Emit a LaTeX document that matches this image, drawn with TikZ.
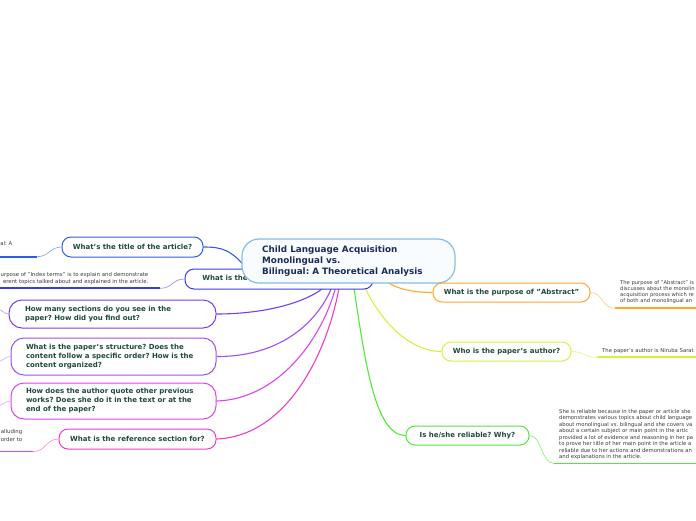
\documentclass[tikz,border=0pt]{standalone}
\usepackage{fontspec}
\setmainfont{DejaVu Sans}
\usetikzlibrary{calc}
\pgfdeclarelayer{bg}
\pgfsetlayers{bg,main}
\definecolor{nodetxt}{HTML}{1E4A3C}
\definecolor{centtxt}{HTML}{1C2B5A}
\definecolor{leaftxt}{HTML}{3A3A3A}
\definecolor{centbd}{HTML}{86BDE6}
\definecolor{centfill}{HTML}{F8FCFF}
\definecolor{cTitle}{HTML}{2F5BE8}
\definecolor{cIndex}{HTML}{3B3BE6}
\definecolor{cMany}{HTML}{7A3CF0}
\definecolor{cStruct}{HTML}{A050F0}
\definecolor{cQuote}{HTML}{D946EF}
\definecolor{cRef}{HTML}{F03CC8}
\definecolor{cAbs}{HTML}{FFA726}
\definecolor{cAuth}{HTML}{D4F23A}
\definecolor{cRel}{HTML}{55E63A}
\frenchspacing
\begin{document}
\begin{tikzpicture}[x=1pt,y=-1pt,
  mnode/.style={draw, line width=1pt, rounded corners=9pt, fill=white,
    font=\bfseries\fontsize{7}{9}\selectfont, text=nodetxt, inner sep=0pt, align=center},
  mlong/.style={mnode, rounded corners=13pt, align=left},
  leaf/.style={font=\fontsize{5.3}{6.5}\selectfont, text=leaftxt, inner sep=0pt},
  link/.style={line width=1.1pt},
  twig/.style={line width=0.6pt},
  uline/.style={line width=1.8pt}]
\useasboundingbox (0,0) rectangle (696,520);
\clip (0,0) rectangle (696,520);

% ---------- nodes ----------
\node[mnode, draw=cIndex, minimum width=188pt, minimum height=20pt] (index) at (279,279)
  {What is the purpose of "Index terms"?};
\node[draw=centbd, line width=1.2pt, fill=centfill, rounded corners=17pt,
  minimum width=213pt, minimum height=44pt, inner sep=0pt] (c) at (348.5,261) {};
\node[anchor=west, align=left, inner sep=0pt, text=centtxt,
  font=\bfseries\fontsize{8.8}{11}\selectfont] (ctext) at (262,261.5)
  {Child Language Acquisition\\Monolingual vs.\\Bilingual: A Theoretical Analysis};

\node[mnode, draw=cTitle, minimum width=141pt, minimum height=20pt] (title) at (132.5,247)
  {What's the title of the article?};
\node[mlong, draw=cMany, text width=175pt, inner xsep=16pt, minimum height=28pt] (many) at (112.5,314)
  {How many sections do you see in the\\paper? How did you find out?};
\node[mlong, draw=cStruct, text width=175pt, inner xsep=15pt, minimum height=37pt] (struct) at (113.5,356.5)
  {What is the paper's structure? Does the\\content follow a specific order? How is the\\content organized?};
\node[mlong, draw=cQuote, text width=175pt, inner xsep=15pt, minimum height=36pt] (quote) at (113.5,401)
  {How does the author quote other previous\\works? Does she do it in the text or at the\\end of the paper?};
\node[mnode, draw=cRef, minimum width=157pt, minimum height=20pt] (ref) at (137.5,439)
  {What is the reference section for?};
\node[mnode, draw=cAbs, minimum width=157pt, minimum height=19pt] (abs) at (511.5,292.5)
  {What is the purpose of "Abstract"};
\node[mnode, draw=cAuth, minimum width=129pt, minimum height=19pt] (auth) at (506.5,351.5)
  {Who is the paper's author?};
\node[mnode, draw=cRel, minimum width=123pt, minimum height=19pt] (rel) at (467.5,435.5)
  {Is he/she reliable? Why?};

% ---------- leaves ----------
\node[leaf, anchor=east] (ltitle) at (12.5,243.5) {al: A};
\node[leaf, anchor=east, align=right, font=\fontsize{5.4}{7}\selectfont] (lindex) at (148.5,279)
  {urpose of "Index terms" is to explain and demonstrate\\erent topics talked about and explained in the article.};
\node[leaf, anchor=east, align=right, font=\fontsize{5.4}{8}\selectfont] (lref) at (22.5,435)
  {alluding\\order to};
\node[leaf, anchor=west, align=left, font=\fontsize{5.2}{6}\selectfont] (labs) at (620,292)
  {The purpose of "Abstract" is\\discusses about the monolin\\acquisition process which re\\of both and monolingual an};
\node[leaf, anchor=west] (lauth) at (602,351.5) {The paper's author is Niruba Sarat};
\node[leaf, anchor=west, align=left] (lrel) at (559,434.5)
  {She is reliable because in the paper or article she\\
   demonstrates various topics about child language\\
   about monolingual vs. bilingual and she covers va\\
   about a certain subject or main point in the artic\\
   provided a lot of evidence and reasoning in her pa\\
   to prove her title of her main point in the article a\\
   reliable due to her actions and demonstrations an\\
   and explanations in the article.};

% free ends of the underlines
\coordinate (u1a) at (37,256.7);  \coordinate (u1b) at (-3,256.7);
\coordinate (u2a) at (160,288.3); \coordinate (u2b) at (-3,288.3);
\coordinate (u3a) at (33,451.5);  \coordinate (u3b) at (-3,451.5);
\coordinate (u4a) at (615,308.3); \coordinate (u4b) at (699,308.3);
\coordinate (u5a) at (597,357.3); \coordinate (u5b) at (699,357.3);
\coordinate (u6a) at (554,463.5); \coordinate (u6b) at (699,463.5);
\coordinate (o1) at (-4,309);
\coordinate (o2) at (-4,362);
\coordinate (o3) at (-4,406);

% ---------- connectors ----------
\begin{pgfonlayer}{bg}
\draw[link, cTitle] (title.east) .. controls (222,247) and (232,249.5) .. ([xshift=8pt,yshift=-11pt]c.west);
\draw[link, cMany] (many.east) .. controls (270,314) and (315,300) .. ([xshift=-18.5pt,yshift=2pt]c.south);
\draw[link, cStruct] (struct.east) .. controls (280,357) and (320,322) .. ([xshift=-14.5pt,yshift=2pt]c.south);
\draw[link, cQuote] (quote.east) .. controls (282,399) and (326,332) .. ([xshift=-11.5pt,yshift=2pt]c.south);
\draw[link, cRef] (ref.east) .. controls (292,436) and (331,342) .. ([xshift=-8.5pt,yshift=2pt]c.south);
\draw[link, cRel] ([xshift=4.5pt,yshift=2pt]c.south) .. controls (365,362) and (375,435.5) .. (rel.west);
\draw[link, cAuth] ([xshift=13.5pt,yshift=2pt]c.south) .. controls (380,322) and (410,351.5) .. (auth.west);
\draw[link, cAbs] ([xshift=38.5pt,yshift=2pt]c.south) .. controls (396,289) and (414,292.5) .. (abs.west);

% leaf twigs and underlines
\draw[twig, cTitle!60] (title.west) .. controls (50,247) and (49,256.7) .. (u1a);
\draw[uline, cTitle] (u1a) -- (u1b);
\draw[twig, cIndex!60] (index.west) .. controls (172,279) and (173,288.3) .. (u2a);
\draw[uline, cIndex] (u2a) -- (u2b);
\draw[twig, cRef!60] (ref.west) .. controls (46,439) and (46,451.5) .. (u3a);
\draw[uline, cRef] (u3a) -- (u3b);
\draw[twig, cAbs!60] (abs.east) .. controls (603,292.5) and (602,308.3) .. (u4a);
\draw[uline, cAbs] (u4a) -- (u4b);
\draw[twig, cAuth!70] (auth.east) .. controls (584,351.5) and (584,357.3) .. (u5a);
\draw[uline, cAuth] (u5a) -- (u5b);
\draw[twig, cRel!70] (rel.east) .. controls (542,435.5) and (541,463.5) .. (u6a);
\draw[uline, cRel] (u6a) -- (u6b);
\draw[twig, cMany!50] (many.west) .. controls (3,314) and (3,309) .. (o1);
\draw[twig, cStruct!50] (struct.west) .. controls (4,356.5) and (3,362) .. (o2);
\draw[twig, cQuote!50] (quote.west) .. controls (4,401) and (3,406) .. (o3);
\end{pgfonlayer}
\end{tikzpicture}
\end{document}
